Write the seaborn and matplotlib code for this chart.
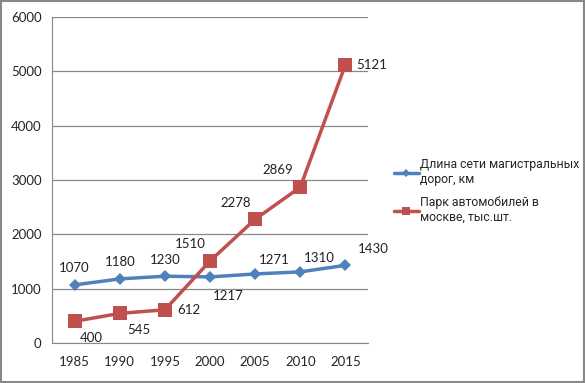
import numpy as np
import pandas as pd
import matplotlib
matplotlib.use("Agg")
import matplotlib.pyplot as plt
import seaborn as sns

# Dane
years = ["1985", "1990", "1995", "2000", "2005", "2010", "2015"]
roads_km = [1070, 1180, 1230, 1217, 1271, 1310, 1430]
cars_k = [400, 545, 612, 1510, 2278, 2869, 5121]
label_roads = "Длина сети магистральных\nдорог, км"
label_cars = "Парк автомобилей в\nмоскве, тыс.шт."

# Przesunięcia etykiet (punkty)
off_roads = [(0, 12), (0, 12), (0, 12), (13, -14), (14, 10), (14, 10), (20, 12)]
off_cars = [(12, -12), (14, -12), (17, 0), (-14, 12), (-14, 12), (-16, 12), (19, 0)]

df = pd.DataFrame({
    "pos": list(range(len(years))) * 2,
    "value": roads_km + cars_k,
    "series": [label_roads] * len(years) + [label_cars] * len(years),
})

sns.set_style("white")
plt.rcParams['font.family'] = ['Lato', 'DejaVu Sans']

fig = plt.figure(figsize=(5.85, 3.83), dpi=100)
ax = fig.add_axes([0.089, 0.1044, 0.54, 0.851])

palette = {label_roads: "#4F81BD", label_cars: "#C0504D"}
sns.lineplot(data=df, x="pos", y="value", hue="series", style="series",
             markers={label_roads: "D", label_cars: "s"}, dashes=False,
             palette=palette, linewidth=2.5, markersize=7, markeredgewidth=0,
             ax=ax)
for line in ax.lines:
    if line.get_marker() == "s":
        line.set_markersize(10)
    else:
        line.set_markersize(6.5)

for i, v in enumerate(roads_km):
    ax.annotate(str(v), (i, v), xytext=off_roads[i], textcoords="offset points",
                ha="center", va="center", fontsize=9.5, color="#222222")
for i, v in enumerate(cars_k):
    ax.annotate(str(v), (i, v), xytext=off_cars[i], textcoords="offset points",
                ha="center", va="center", fontsize=9.5, color="#222222")

ax.set_xlim(-0.5, len(years) - 0.5)
ax.set_ylim(0, 6000)
ax.set_yticks(np.arange(0, 6001, 1000))
ax.set_xticks(range(len(years)))
ax.set_xticklabels(years)
ax.set_xticks(np.arange(-0.5, len(years), 1), minor=True)
ax.tick_params(axis="x", which="major", length=0, pad=9, labelsize=9.5)
ax.tick_params(axis="x", which="minor", length=4, color="#888888", direction="out")
ax.tick_params(axis="y", length=4, color="#888888", labelsize=9.5, direction="out")
ax.yaxis.grid(True, color="#888888", linewidth=0.9)
ax.set_xlabel("")
ax.set_ylabel("")
for side in ["top", "right"]:
    ax.spines[side].set_visible(False)
for side in ["left", "bottom"]:
    ax.spines[side].set_color("#888888")

handles, labels = ax.get_legend_handles_labels()
for h in handles:
    h.set_markersize(6 if h.get_marker() == "s" else 4.5)
    h.set_linewidth(2.5)
ax.legend(handles, labels, loc="upper left", bbox_to_anchor=(0.655, 0.615),
          bbox_transform=fig.transFigure, frameon=False,
          prop={"family": ["Roboto", "DejaVu Sans"], "size": 8.8},
          handlelength=2.0, handletextpad=0.1, labelspacing=0.8)

fig.patches.append(plt.Rectangle((0.002, 0.003), 0.996, 0.994, transform=fig.transFigure,
                                 fill=False, edgecolor="#888888", linewidth=1.5))

plt.savefig("out.png", dpi=100)
plt.close()
